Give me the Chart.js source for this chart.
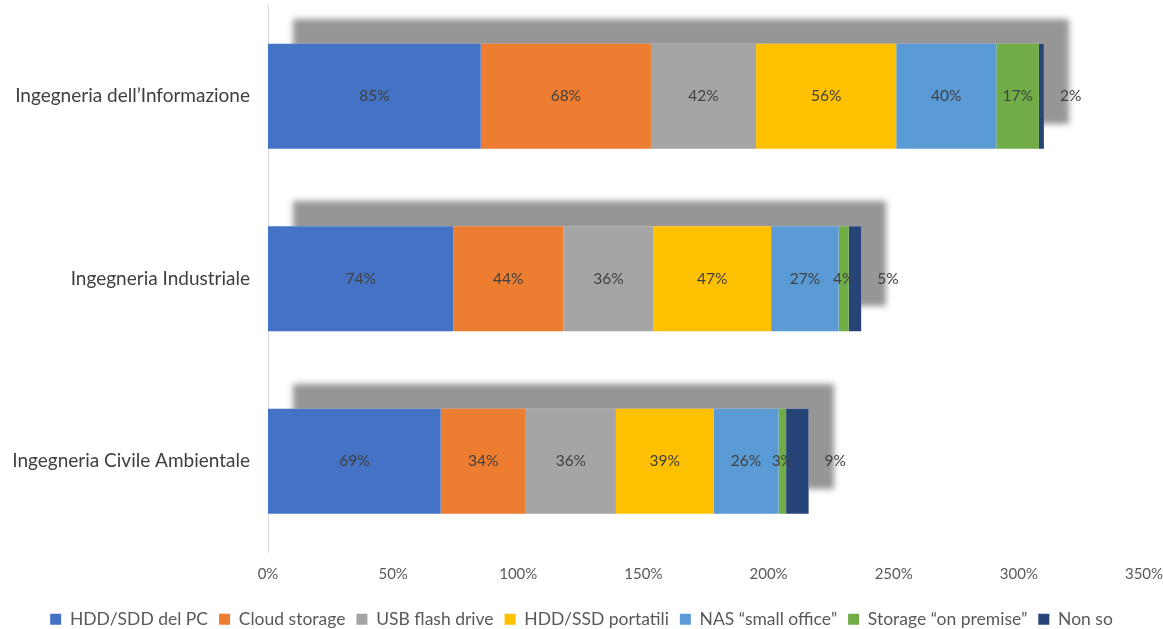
<!DOCTYPE html>
<html>
<head>
<meta charset="utf-8">
<script src="https://cdn.jsdelivr.net/npm/chart.js@4"></script>
<style>
  html, body { margin: 0; padding: 0; background: #fff; }
  #wrap { width: 1163px; height: 629px; }
</style>
</head>
<body>
<div id="wrap"><canvas id="chart"></canvas></div>
<script>
const categories = ['Ingegneria dell\u2019Informazione', 'Ingegneria Industriale', 'Ingegneria Civile Ambientale'];
const seriesNames = ['HDD/SDD del PC', 'Cloud storage', 'USB flash drive', 'HDD/SSD portatili', 'NAS \u201csmall office\u201d', 'Storage \u201con premise\u201d', 'Non so'];
const seriesColors = ['#4472C4', '#ED7D31', '#A5A5A5', '#FFC000', '#5B9BD5', '#70AD47', '#264478'];
const hddPc = [85, 74, 69];
const cloud = [68, 44, 34];
const usb = [42, 36, 36];
const hddPortatili = [56, 47, 39];
const nas = [40, 27, 26];
const onPremise = [17, 4, 3];
const nonSo = [2, 5, 9];
const xTicks = [0, 50, 100, 150, 200, 250, 300, 350];

const allValues = [hddPc, cloud, usb, hddPortatili, nas, onPremise, nonSo];
const FONT = 'Lato, "Open Sans", sans-serif';

// grey 3D-ish shadow behind each whole stacked bar
const shadowPlugin = {
    id: 'barShadow',
    beforeDatasetsDraw(chart) {
        const ctx = chart.ctx;
        const first = chart.getDatasetMeta(0).data;
        const last = chart.getDatasetMeta(chart.data.datasets.length - 1).data;
        ctx.save();
        ctx.shadowColor = '#969696';
        ctx.shadowOffsetX = 25;
        ctx.shadowOffsetY = -25;
        ctx.shadowBlur = 6;
        ctx.fillStyle = '#ffffff';
        first.forEach(function(bar, j) {
            const end = last[j];
            ctx.fillRect(bar.base, bar.y - bar.height / 2, end.x - bar.base, bar.height);
        });
        ctx.restore();
    }
};

const labelPlugin = {
    id: 'valueLabels',
    afterDatasetsDraw(chart) {
        const ctx = chart.ctx;
        ctx.save();
        ctx.font = '15.5px ' + FONT;
        ctx.fillStyle = '#404040';
        ctx.textBaseline = 'middle';
        chart.data.datasets.forEach(function(ds, i) {
            const meta = chart.getDatasetMeta(i);
            meta.data.forEach(function(bar, j) {
                const txt = ds.data[j] + '%';
                if (i === chart.data.datasets.length - 1) {
                    ctx.textAlign = 'left';
                    ctx.fillText(txt, bar.x + 16, bar.y);
                } else {
                    ctx.textAlign = 'center';
                    ctx.fillText(txt, (bar.base + bar.x) / 2, bar.y);
                }
            });
        });
        ctx.restore();
    }
};

const ctx = document.getElementById('chart').getContext('2d');
new Chart(ctx, {
    type: 'bar',
    data: {
        labels: categories,
        datasets: seriesNames.map(function(name, i) {
            return {
                label: name,
                data: allValues[i],
                backgroundColor: seriesColors[i],
                borderWidth: 0,
                categoryPercentage: 1,
                barPercentage: 0.575
            };
        })
    },
    options: {
        indexAxis: 'y',
        responsive: true,
        maintainAspectRatio: false,
        animation: false,
        layout: { padding: { top: 5, right: 0, left: 0, bottom: -9 } },
        scales: {
            x: {
                stacked: true,
                min: 0,
                max: 350,
                afterBuildTicks: function(axis) {
                    axis.ticks = xTicks.map(function(v) { return { value: v }; });
                },
                afterFit: function(s) {
                    s.height += 11;
                    s.paddingRight = 19;
                },
                grid: { display: false },
                border: { display: false },
                ticks: {
                    callback: function(v) { return v + '%'; },
                    color: '#595959',
                    font: { family: FONT, size: 15 },
                    padding: 5,
                    maxRotation: 0
                }
            },
            y: {
                stacked: true,
                grid: { display: false },
                border: { display: true, color: '#d9d9d9', width: 1 },
                afterFit: function(s) {
                    s.width = 268;
                    s.paddingTop = 0;
                    s.paddingBottom = 0;
                },
                ticks: {
                    color: '#404040',
                    font: { family: FONT, size: 19 },
                    padding: 10
                }
            }
        },
        plugins: {
            legend: {
                position: 'bottom',
                labels: {
                    boxWidth: 11,
                    boxHeight: 11,
                    color: '#595959',
                    font: { family: FONT, size: 17.5 },
                    padding: 11
                }
            },
            tooltip: { enabled: false }
        }
    },
    plugins: [shadowPlugin, labelPlugin]
});
</script>
</body>
</html>
